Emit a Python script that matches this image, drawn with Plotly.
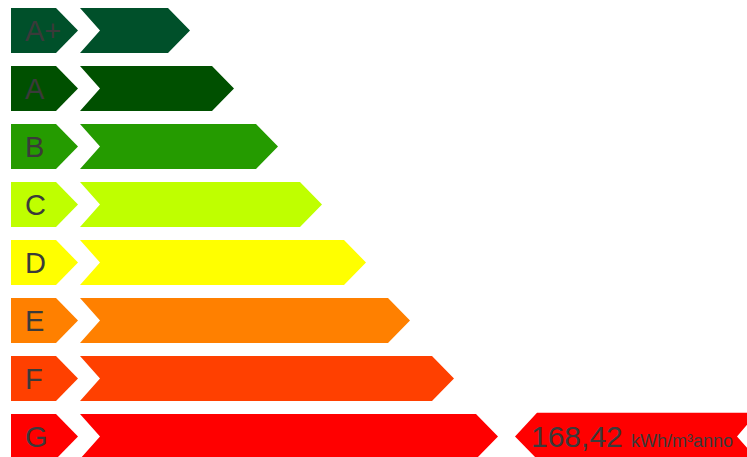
import plotly.graph_objects as go

# ---- data ----
classes = ["A+", "A", "B", "C", "D", "E", "F", "G"]
bar_lengths = [110, 154, 198, 242, 286, 330, 374, 418]   # arrow length per class (axis units)
current_class = "G"
current_value = "168,42"
unit = "kWh/m³anno"

# ---- style ----
colors = ["#00502a", "#005000", "#259b00", "#bfff00", "#ffff00", "#ff8000", "#ff4000", "#ff0000"]
text_color = "#3a3a3a"
H = 0.388          # half arrow height in row units
TIP = 22           # arrow tip length (x units)
NOTCH = 20
LBL_X0, LBL_X1 = 11, 56
BAR_X0 = 80

fig = go.Figure()
for i, (c, L, col) in enumerate(zip(classes, bar_lengths, colors)):
    fig.add_trace(go.Scatter(
        x=[LBL_X0, LBL_X1, LBL_X1 + TIP, LBL_X1, LBL_X0, LBL_X0],
        y=[i - H, i - H, i, i + H, i + H, i - H],
        fill="toself", fillcolor=col, mode="none", hoverinfo="skip", showlegend=False))
    end = BAR_X0 + L
    fig.add_trace(go.Scatter(
        x=[BAR_X0, end - TIP, end, end - TIP, BAR_X0, BAR_X0 + NOTCH, BAR_X0],
        y=[i - H, i - H, i, i + H, i + H, i, i - H],
        fill="toself", fillcolor=col, mode="none", hoverinfo="skip", showlegend=False))
    fig.add_annotation(x=23, y=i, text=c, showarrow=False, xanchor="left", yanchor="middle",
                       font=dict(family="Liberation Sans, Arial", size=29, color=text_color))

# pointer for current class
ci = classes.index(current_class)
pcol = colors[ci]
px0 = 515
fig.add_trace(go.Scatter(
    x=[px0, px0 + TIP, 757, 737, 757, px0 + TIP, px0],
    y=[ci, ci - H - 0.02, ci - H - 0.02, ci, ci + H, ci + H, ci],
    fill="toself", fillcolor=pcol, mode="none", hoverinfo="skip", showlegend=False))
fig.add_annotation(x=529, y=ci, text=f"{current_value} <span style='font-size:18px'>{unit}</span>",
                   showarrow=False, xanchor="left", yanchor="middle",
                   font=dict(family="Liberation Sans, Arial", size=30, color=text_color))

fig.update_layout(
    width=747, height=457, margin=dict(l=0, r=0, t=0, b=0),
    plot_bgcolor="white", paper_bgcolor="white",
    xaxis=dict(range=[0, 747], visible=False, fixedrange=True),
    yaxis=dict(range=[(457 - 30.5) / 58, -30.5 / 58], visible=False, fixedrange=True),
)
fig.write_html("out.html")
